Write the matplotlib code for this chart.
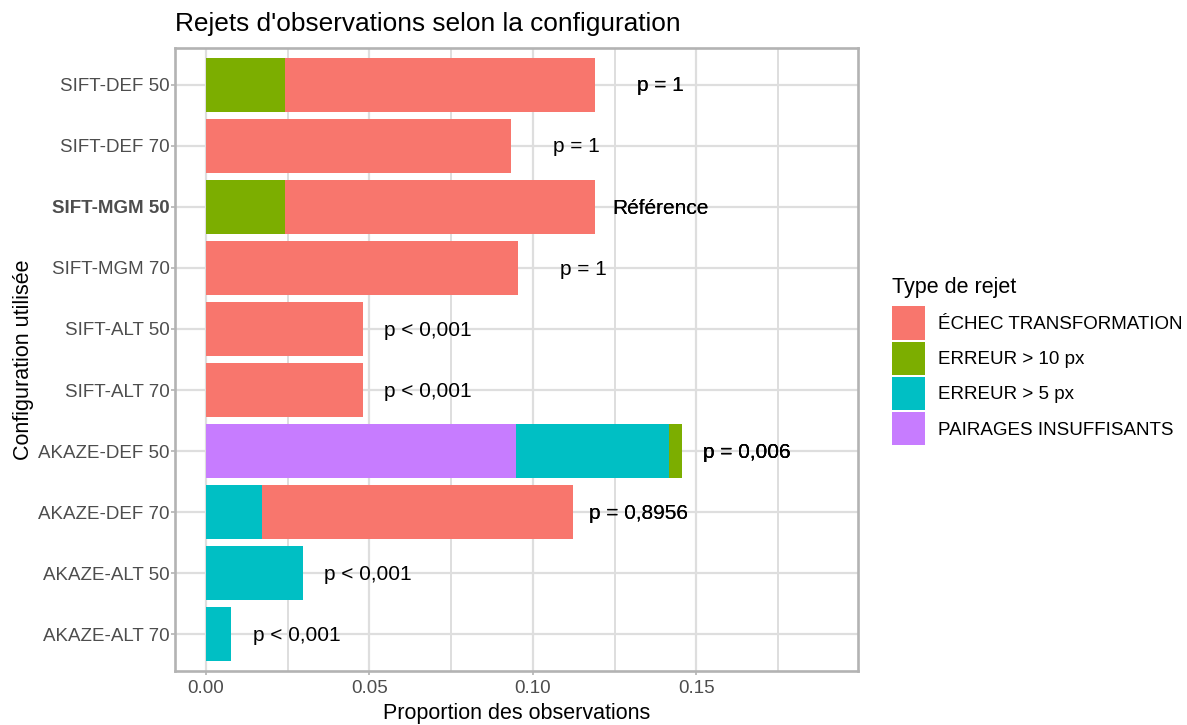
import matplotlib.pyplot as plt
from matplotlib.patches import Patch
from matplotlib.ticker import FixedLocator, FormatStrFormatter

# configurations, from top to bottom
configs = ["SIFT-DEF 50", "SIFT-DEF 70", "SIFT-MGM 50", "SIFT-MGM 70",
           "SIFT-ALT 50", "SIFT-ALT 70", "AKAZE-DEF 50", "AKAZE-DEF 70",
           "AKAZE-ALT 50", "AKAZE-ALT 70"]
reference = "SIFT-MGM 50"

# share of rejected observations per rejection type
echec_transfo = [0.0948, 0.0933, 0.0948, 0.0954, 0.0479, 0.0479, 0.0, 0.0952, 0.0, 0.0]
erreur_10px = [0.0241, 0.0, 0.0241, 0.0, 0.0, 0.0, 0.0039, 0.0, 0.0, 0.0]
erreur_5px = [0.0, 0.0, 0.0, 0.0, 0.0, 0.0, 0.0467, 0.0172, 0.0296, 0.0077]
pairages = [0.0, 0.0, 0.0, 0.0, 0.0, 0.0, 0.0950, 0.0, 0.0, 0.0]

p_labels = ["p = 1", "p = 1", "Référence", "p = 1", "p < 0,001", "p < 0,001",
            "p = 0,006", "p = 0,8956", "p < 0,001", "p < 0,001"]

type_names = ["ÉCHEC TRANSFORMATION", "ERREUR > 10 px", "ERREUR > 5 px",
              "PAIRAGES INSUFFISANTS"]
type_colors = ["#F8766D", "#7CAE00", "#00BFC4", "#C77CFF"]

plt.rcParams["font.family"] = ["Liberation Sans", "DejaVu Sans"]

fig = plt.figure(figsize=(11.87, 7.25), dpi=100)
ax = fig.add_axes([175 / 1187, 1 - 671 / 725, 683 / 1187, 623 / 725])

n = len(configs)
ypos = [n - 1 - i for i in range(n)]
bar_h = 0.88

# stacked left to right: last factor level first (ggplot stacking order)
series = [echec_transfo, erreur_10px, erreur_5px, pairages]
left = [0.0] * n
for k in (3, 2, 1, 0):
    vals = series[k]
    ax.barh(ypos, vals, left=left, height=bar_h, color=type_colors[k],
            linewidth=0, zorder=3)
    left = [l + v for l, v in zip(left, vals)]

# p-value text, drawn once per stacked segment like geom_text on long data
for i in range(n):
    nseg = sum(1 for s in series if s[i] > 0)
    for _ in range(max(nseg, 1)):
        ax.text(left[i] + 0.02, ypos[i] - 0.02, p_labels[i], ha="center", va="center",
                fontsize=15, color="black", zorder=4)

ax.set_xlim(-0.0095, 0.1995)
ax.set_ylim(-0.6, n - 0.4)

ax.xaxis.set_major_locator(FixedLocator([0.0, 0.05, 0.10, 0.15]))
ax.xaxis.set_minor_locator(FixedLocator([0.025, 0.075, 0.125, 0.175]))
ax.xaxis.set_major_formatter(FormatStrFormatter("%.2f"))
ax.set_yticks(ypos)
ax.set_yticklabels(configs)
for lab in ax.get_yticklabels():
    if lab.get_text() == reference:
        lab.set_fontweight("bold")

ax.grid(True, which="major", color="#DEDEDE", lw=1.6, zorder=0)
ax.grid(True, which="minor", axis="x", color="#DEDEDE", lw=1.4, zorder=0)
ax.set_axisbelow(True)

ax.tick_params(axis="both", which="major", length=2.6, width=1.4, color="#BEBEBE",
               labelsize=13.5, labelcolor="#4D4D4D", pad=1.2)
ax.tick_params(axis="x", which="major", pad=4)
ax.tick_params(axis="both", which="minor", length=0)
for sp in ax.spines.values():
    sp.set_color("#B3B3B3")
    sp.set_linewidth(1.9)

ax.set_xlabel("Proportion des observations", fontsize=15.5, labelpad=4)
ax.set_ylabel("Configuration utilisée", fontsize=15.5, labelpad=3)
ax.set_title("Rejets d'observations selon la configuration", fontsize=18.9,
             loc="left", pad=12)

handles = [Patch(facecolor=c, edgecolor="none") for c in type_colors]
leg = fig.legend(handles, type_names, loc="upper left",
                 bbox_to_anchor=(892 / 1187, 1 - 277 / 725),
                 frameon=False, fontsize=13.5, title="Type de rejet", title_fontsize=15.5,
                 alignment="left", handlelength=1.75, handleheight=2.35, labelspacing=0.11,
                 handletextpad=0.72, borderpad=0, borderaxespad=0)
# more room between the legend title and the first key
leg._legend_box.sep = 6.0

fig.savefig("out.png", dpi=100)
